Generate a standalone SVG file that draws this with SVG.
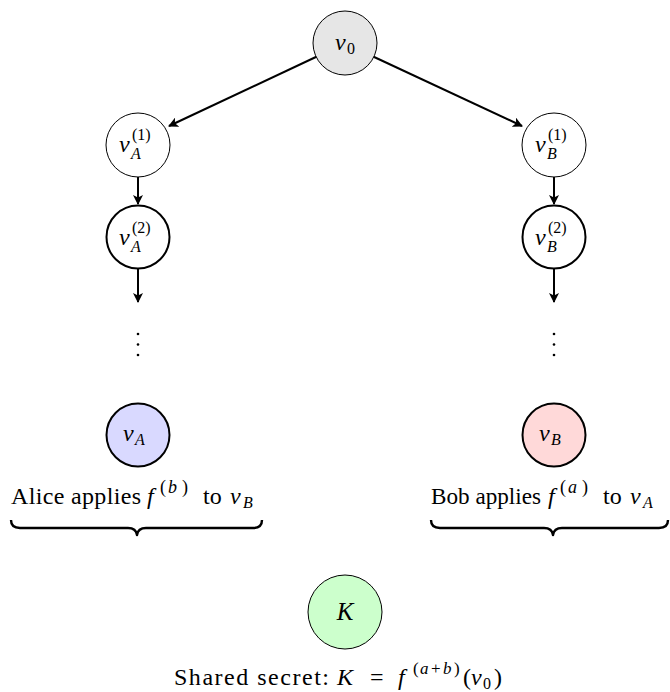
<svg xmlns="http://www.w3.org/2000/svg" width="670" height="692" viewBox="0 0 670 692">
<defs>
<marker id="ah" viewBox="0 0 10 10" refX="9" refY="5" markerWidth="10" markerHeight="10" markerUnits="userSpaceOnUse" orient="auto">
<path d="M0,0 L10,5 L0,10 L2.5,5 Z" fill="#000"/>
</marker>
<style>
text{font-family:"Liberation Serif","Times New Roman","DejaVu Serif","Noto Serif",serif;fill:#000}
.i{font-style:italic}
.thin{stroke:#000;stroke-width:1}
.thick{stroke:#000;stroke-width:2}
.edge{stroke:#000;stroke-width:2;fill:none;marker-end:url(#ah)}
.brace{stroke:#000;stroke-width:2.4;fill:none;stroke-linejoin:round}
</style>
</defs>
<rect width="670" height="692" fill="#fff"/>
<g id="connectors">
<line class="edge" x1="318" y1="56" x2="169" y2="126"/>
<line class="edge" x1="372" y1="56" x2="522" y2="126"/>
<line class="edge" x1="138" y1="177" x2="138" y2="204"/>
<line class="edge" x1="554" y1="177" x2="554" y2="204"/>
<line class="edge" x1="138" y1="269" x2="138" y2="302"/>
<line class="edge" x1="554" y1="269" x2="554" y2="302"/>
</g>
<g id="v0">
<circle cx="345" cy="43" r="32" fill="#e6e6e6" class="thin"/>
<text class="i" x="335" y="50" font-size="24">v</text>
<text x="347" y="54" font-size="16">0</text>
</g>
<g id="vA1">
<circle cx="138" cy="145" r="32" fill="#fff" class="thin"/>
<text class="i" x="119" y="152" font-size="24">v</text>
<text x="132" y="140" font-size="16">(1)</text>
<text class="i" x="131" y="159" font-size="16">A</text>
</g>
<g id="vB1">
<circle cx="554" cy="145" r="32" fill="#fff" class="thin"/>
<text class="i" x="535" y="152" font-size="24">v</text>
<text x="548" y="140" font-size="16">(1)</text>
<text class="i" x="547" y="159" font-size="16">B</text>
</g>
<g id="vA2">
<circle cx="138" cy="237" r="31.5" fill="#fff" class="thick"/>
<text class="i" x="119" y="245" font-size="24">v</text>
<text x="132" y="233" font-size="16">(2)</text>
<text class="i" x="131" y="252" font-size="16">A</text>
</g>
<g id="vB2">
<circle cx="554" cy="237" r="31.5" fill="#fff" class="thick"/>
<text class="i" x="535" y="245" font-size="24">v</text>
<text x="548" y="233" font-size="16">(2)</text>
<text class="i" x="547" y="252" font-size="16">B</text>
</g>
<g id="dotsA">
<circle cx="138" cy="334" r="1.3" fill="#000"/>
<circle cx="138" cy="344.5" r="1.3" fill="#000"/>
<circle cx="138" cy="355" r="1.3" fill="#000"/>
</g>
<g id="dotsB">
<circle cx="554" cy="334" r="1.3" fill="#000"/>
<circle cx="554" cy="344.5" r="1.3" fill="#000"/>
<circle cx="554" cy="355" r="1.3" fill="#000"/>
</g>
<g id="vA">
<circle cx="138" cy="435" r="31.5" fill="#d9d9ff" class="thick"/>
<text class="i" x="123" y="441" font-size="24">v</text>
<text class="i" x="135" y="445" font-size="16">A</text>
</g>
<g id="vB">
<circle cx="554" cy="435" r="31.5" fill="#ffd9d9" class="thick"/>
<text class="i" x="539" y="441" font-size="24">v</text>
<text class="i" x="551" y="445" font-size="16">B</text>
</g>
<g id="aliceLabel">
<text x="11" y="504" font-size="24" textLength="130" lengthAdjust="spacing">Alice applies</text>
<text class="i" x="147" y="504" font-size="24">f</text>
<text y="493" font-size="18"><tspan x="160">(</tspan><tspan class="i" x="168">b</tspan><tspan x="182">)</tspan></text>
<text x="203" y="504" font-size="24">to</text>
<text class="i" x="230" y="504" font-size="24">v</text>
<text class="i" x="243" y="508" font-size="16">B</text>
<path class="brace" d="M11,520 Q11,528 20,528 L128,528 Q136,528 137,535 Q138,528 146,528 L253,528 Q262,528 262,520"/>
</g>
<g id="bobLabel">
<text x="431" y="504" font-size="24" textLength="110" lengthAdjust="spacingAndGlyphs">Bob applies</text>
<text class="i" x="548" y="504" font-size="24">f</text>
<text y="493" font-size="18"><tspan x="560">(</tspan><tspan class="i" x="568">a</tspan><tspan x="582">)</tspan></text>
<text x="603" y="504" font-size="24">to</text>
<text class="i" x="630" y="504" font-size="24">v</text>
<text class="i" x="643" y="508" font-size="16">A</text>
<path class="brace" d="M431,520 Q431,528 440,528 L544,528 Q552,528 553,535 Q554,528 562,528 L659,528 Q668,528 668,520"/>
</g>
<g id="K">
<circle cx="345" cy="612" r="37" fill="#ccffcc" class="thin"/>
<text class="i" x="345" y="620" text-anchor="middle" font-size="25">K</text>
</g>
<g id="sharedLabel">
<text x="174" y="685" font-size="24" textLength="155" lengthAdjust="spacing">Shared secret:</text>
<text class="i" x="337" y="685" font-size="24">K</text>
<text x="370" y="685" font-size="24">=</text>
<text class="i" x="398" y="685" font-size="24">f</text>
<text y="674" font-size="17"><tspan x="413">(</tspan><tspan class="i" x="420">a</tspan><tspan x="431">+</tspan><tspan class="i" x="443">b</tspan><tspan x="454">)</tspan></text>
<text x="463" y="685" font-size="24">(</text>
<text class="i" x="471" y="685" font-size="24">v</text>
<text x="483" y="689" font-size="16">0</text>
<text x="494" y="685" font-size="24">)</text>
</g>
</svg>
